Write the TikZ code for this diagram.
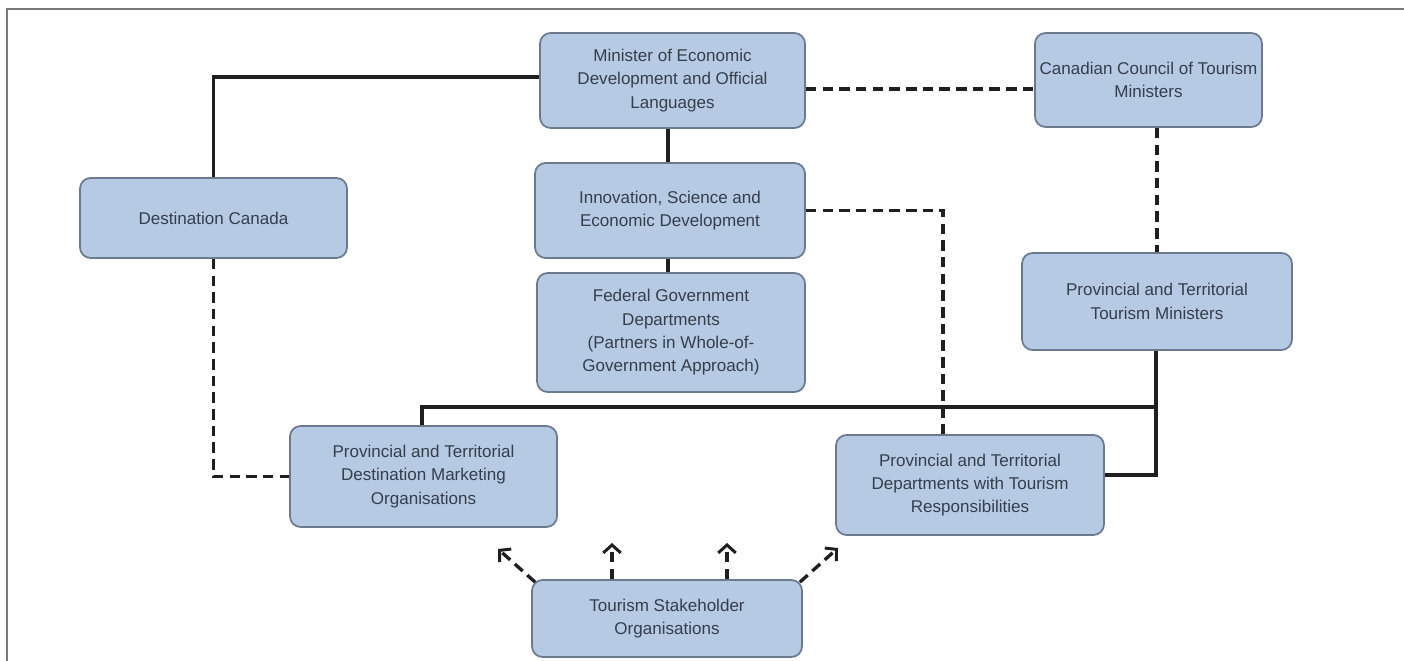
\documentclass[tikz,border=0pt]{standalone}
\usepackage{fontspec}
\setmainfont{Liberation Sans}
\usetikzlibrary{arrows.meta}
\definecolor{boxfill}{HTML}{B6CAE4}
\definecolor{edge}{HTML}{6B7A8E}
\definecolor{txt}{HTML}{353F4B}
\definecolor{frm}{HTML}{7A7A7A}
\tikzset{
  box/.style={draw=edge,line width=1pt,rounded corners=6pt,fill=boxfill,align=center,text=txt,inner sep=2pt},
  ln/.style={line width=1.9pt,draw=black!88},
  dl/.style={ln,dash pattern=on 6pt off 3.5pt},
  ar/.style={dl,-{Straight Barb[length=4.5pt,width=10pt,line width=1.7pt]}},
}

\begin{document}
\begin{tikzpicture}[x=0.02cm,y=-0.02cm, every node/.style={font=\fontsize{9.7}{13.3}\selectfont}]
\useasboundingbox (0,0) rectangle (1404,661);
\draw[frm,line width=1.4pt] (7,661) -- (7,9) -- (1404,9);

\node[box,minimum width=5.3cm,minimum height=1.9cm] (min) at (672.5,80.5) {Minister of Economic\\Development and Official\\Languages};
\node[box,minimum width=4.54cm,minimum height=1.88cm] (ccm) at (1148.5,80) {Canadian Council of Tourism\\Ministers};
\node[box,minimum width=5.34cm,minimum height=1.6cm] (dc) at (213.5,218) {Destination Canada};
\node[box,minimum width=5.4cm,minimum height=1.9cm] (ised) at (670,210.5) {Innovation, Science and\\Economic Development};
\node[box,minimum width=5.36cm,minimum height=2.38cm] (fgd) at (671,332.5) {Federal Government\\Departments\\(Partners in Whole-of-\\Government Approach)};
\node[box,minimum width=5.4cm,minimum height=1.94cm] (ptm) at (1157,301.5) {Provincial and Territorial\\Tourism Ministers};
\node[box,minimum width=5.34cm,minimum height=2.02cm] (dmo) at (423.5,476.5) {Provincial and Territorial\\Destination Marketing\\Organisations};
\node[box,minimum width=5.36cm,minimum height=2.0cm] (ptd) at (970,485) {Provincial and Territorial\\Departments with Tourism\\Responsibilities};
\node[box,minimum width=5.4cm,minimum height=1.54cm] (tso) at (667,618.5) {Tourism Stakeholder\\Organisations};

\coordinate (tl) at (498,549);
\coordinate (t1) at (612,543);
\coordinate (t2) at (727,543);
\coordinate (tr) at (838,548);

\draw[ln] (min.west |- 0,77) -| (dc.north);
\draw[dl] (min.east |- 0,89) -- (ccm.west |- 0,89);
\draw[ln] (min.south -| 668,0) -- (ised.north -| 668,0);
\draw[ln] (ised.south -| 668,0) -- (fgd.north -| 668,0);
\draw[dl] (ised.east) -| (ptd.north -| 943,0);
\draw[dl] (ccm.south -| ptm.north) -- (ptm.north);
\draw[dl] (dc.south) |- (dmo.west);
\draw[ln] (ptm.south -| 1156,0) |- (ptd.east |- 0,475);
\draw[ln] (1156,407) -| (dmo.north -| 422,0);

\draw[ar] (tso.north west) ++(4,3) -- (tl);
\draw[ar] (tso.north -| t1) -- (t1);
\draw[ar] (tso.north -| t2) -- (t2);
\draw[ar] (tso.north east) ++(-3,3) -- (tr);
\end{tikzpicture}
\end{document}
